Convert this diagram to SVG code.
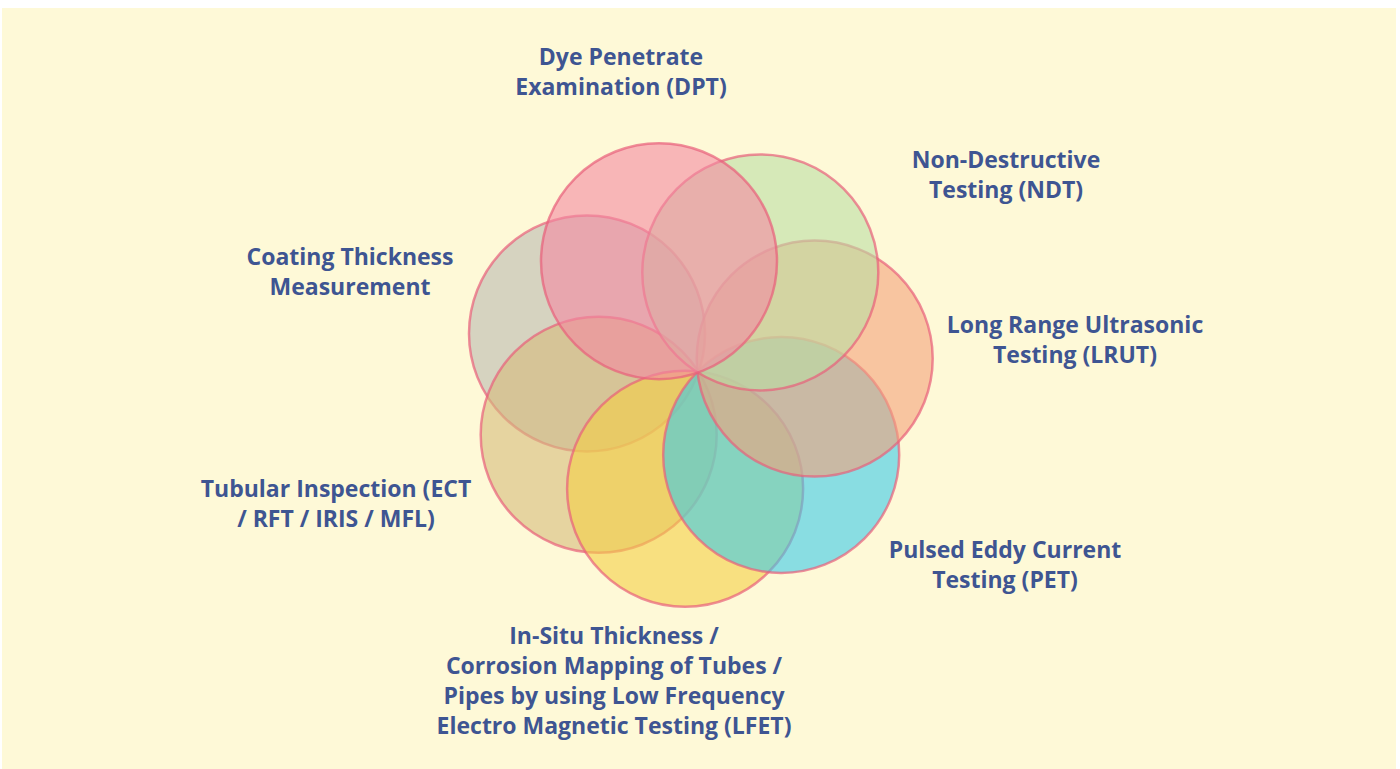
<svg xmlns="http://www.w3.org/2000/svg" width="1400" height="769" viewBox="0 0 1400 769">
<style>
.c{stroke:#E8607A;stroke-opacity:0.7;stroke-width:2.5;fill-opacity:0.6}
.t{font-family:"Open Sans","Noto Sans","DejaVu Sans",sans-serif;font-weight:bold;font-size:23px;fill:#3E5592;text-anchor:middle}
</style>
<rect x="0" y="0" width="1400" height="769" fill="#ffffff"/>
<rect x="2" y="8" width="1394" height="761" fill="#FEF9D7"/>
<g id="circles">
<g id="n-coating"><circle class="c" cx="587" cy="333.4" r="118" fill="#BBB9B1"/></g>
<g id="n-tubular"><circle class="c" cx="598.7" cy="434.8" r="118" fill="#D6BA7B"/></g>
<g id="n-lfet"><circle class="c" cx="685.1" cy="488.8" r="118" fill="#F4CE46"/></g>
<g id="n-pet"><circle class="c" cx="781.2" cy="454.9" r="118" fill="#3BC9E9"/></g>
<g id="n-lrut"><circle class="c" cx="814.7" cy="358.6" r="118" fill="#F4A17B"/></g>
<g id="n-ndt"><circle class="c" cx="760.3" cy="272.4" r="118" fill="#BBDDA3"/></g>
<g id="n-dpt"><circle class="c" cx="659" cy="261.2" r="118" fill="#F488A1"/></g>
</g>
<g id="labels">
<g id="l-dpt"><text class="t" x="621" y="65">Dye Penetrate</text><text class="t" x="621" y="95">Examination (DPT)</text></g>
<g id="l-ndt"><text class="t" x="1006" y="168">Non-Destructive</text><text class="t" x="1006" y="198">Testing (NDT)</text></g>
<g id="l-lrut"><text class="t" x="1075" y="333">Long Range Ultrasonic</text><text class="t" x="1075" y="363">Testing (LRUT)</text></g>
<g id="l-pet"><text class="t" x="1005" y="558">Pulsed Eddy Current</text><text class="t" x="1005" y="588">Testing (PET)</text></g>
<g id="l-lfet"><text class="t" x="614" y="644">In-Situ Thickness /</text><text class="t" x="614" y="674">Corrosion Mapping of Tubes /</text><text class="t" x="614" y="704">Pipes by using Low Frequency</text><text class="t" x="614" y="734">Electro Magnetic Testing (LFET)</text></g>
<g id="l-tubular"><text class="t" x="336" y="497">Tubular Inspection (ECT</text><text class="t" x="336" y="527">/ RFT / IRIS / MFL)</text></g>
<g id="l-coating"><text class="t" x="350" y="265">Coating Thickness</text><text class="t" x="350" y="295">Measurement</text></g>
</g>
</svg>
